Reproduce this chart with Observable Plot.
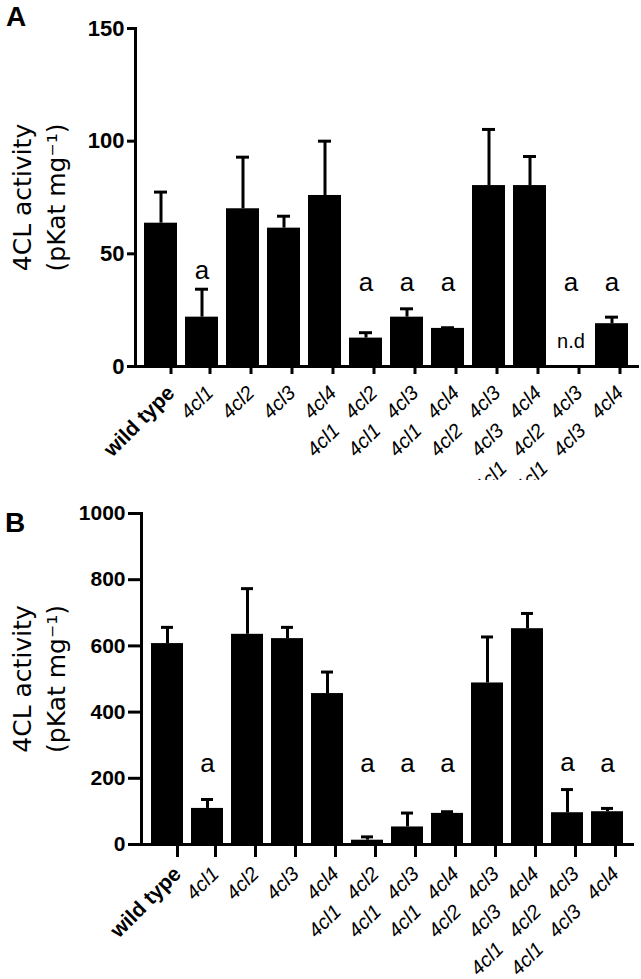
<!DOCTYPE html>
<html><head><meta charset="utf-8">
<script src="https://cdn.jsdelivr.net/npm/d3@7"></script>
<script src="https://cdn.jsdelivr.net/npm/@observablehq/plot@0.6"></script>
<style>
body{margin:0;background:#fff;font-family:"Liberation Sans",Arial,Helvetica,sans-serif;}
.panel{position:relative;width:641px;}
.letter{position:absolute;font-weight:bold;font-size:28px;line-height:1;color:#000;}
svg{display:block;}
</style></head><body>
<div id="A" class="panel"><span class="letter" style="left:6px;top:3px">A</span></div>
<div id="B" class="panel"><span class="letter" style="left:5px;top:29px">B</span></div>
<script>
const genotypes = ["wild type","4cl1","4cl2","4cl3","4cl4","4cl1 4cl2","4cl1 4cl3","4cl1 4cl4","4cl2 4cl3","4cl3 4cl4","4cl1 4cl2 4cl3","4cl1 4cl3 4cl4"];

const meansA = [63.6, 21.9, 70.0, 61.4, 75.9, 12.6, 21.9, 16.9, 80.3, 80.3, 0, 19.0];
const errA   = [13.8, 12.4, 22.9, 5.3, 24.1, 2.4, 3.7, 0.3, 24.9, 12.9, 0, 2.9];
const sigA   = ["", "a", "", "", "", "a", "a", "a", "", "", "a", "a"];
const ticksA = [0, 50, 100, 150];

const meansB = [607, 109, 635, 622, 456, 13, 53, 94, 488, 652, 96, 99];
const errB   = [49, 27, 138, 34, 65, 10, 42, 5, 139, 46, 70, 10];
const sigB   = ["", "a", "", "", "", "a", "a", "a", "", "", "a", "a"];
const ticksB = [0, 200, 400, 600, 800, 1000];

const yLabel = "4CL activity\n(pKat mg\u207B\u00B9)";
const FONT = "'Liberation Sans', Arial, Helvetica, sans-serif";
const wide = s => s.replace(/ /g, "\u00A0\u00A0\u00A0");

function panel({means, errs, sig, ticks, ymax, height, marginTop, marginBottom, marginLeft, marginRight, labelBase, labelPad, yTick, yFont, xTick, xPad}) {
  const rows = genotypes.map((g, i) => ({
    g, v: means[i], e: errs[i], top: means[i] + errs[i], s: sig[i],
    ly: Math.max(labelBase, means[i] + errs[i] + labelPad)
  }));
  const withErr = rows.filter(d => d.e > 0);
  return Plot.plot({
    width: 641, height, marginTop, marginBottom, marginLeft, marginRight,
    style: {fontFamily: FONT, color: "black", background: "white", overflow: "visible"},
    x: {domain: genotypes, paddingInner: 0.2, paddingOuter: 0.1, axis: null},
    y: {domain: [0, ymax], axis: null},
    marks: [
      Plot.barY(rows, {x: "g", y: "v", fill: "black"}),
      Plot.ruleX(withErr, {x: "g", y1: "v", y2: "top", stroke: "black", strokeWidth: 3}),
      Plot.tickY(withErr, {x: "g", y: "top", stroke: "black", strokeWidth: 3, insetLeft: 10, insetRight: 10}),
      Plot.text(rows.filter(d => d.s), {x: "g", y: "ly", text: "s", fontSize: 26, fill: "black"}),
      Plot.text(rows.filter(d => d.v === 0), {x: "g", y: 0, text: () => "n.d", fontSize: 20, lineAnchor: "bottom", dy: -19, fill: "black"}),
      Plot.axisY(ticks, {tickSize: yTick, tickPadding: 3, strokeWidth: 3, fontSize: yFont, fontWeight: "bold", label: null, fill: "black", tickFormat: d => String(d)}),
      Plot.axisX(["wild type"], {tickSize: xTick, strokeWidth: 3, tickRotate: -45, tickPadding: xPad, dx: 10, fontSize: 21, fontWeight: "bold", label: null, fill: "black"}),
      Plot.axisX(genotypes.slice(1), {tickSize: xTick, strokeWidth: 3, tickRotate: -45, tickPadding: xPad, dx: 8, fontSize: 20, fontStyle: "italic", label: null, fill: "black", tickFormat: wide}),
      Plot.frame({anchor: "left", stroke: "black", strokeWidth: 3}),
      Plot.frame({anchor: "bottom", stroke: "black", strokeWidth: 3}),
      Plot.text([yLabel], {frameAnchor: "left", dx: 37 - marginLeft, rotate: -90, textAnchor: "middle", lineAnchor: "middle", fontSize: 25, lineHeight: 1.36, fontFamily: "'DejaVu Sans', sans-serif", text: d => d, fill: "black"})
    ]
  });
}

document.getElementById("A").append(panel({
  means: meansA, errs: errA, sig: sigA, ticks: ticksA, ymax: 150,
  height: 480, marginTop: 28, marginBottom: 114, marginLeft: 135, marginRight: 4,
  labelBase: 37.4, labelPad: 8.3, yTick: 8, yFont: 22, xTick: 8, xPad: 15
}));
document.getElementById("B").append(panel({
  means: meansB, errs: errB, sig: sigB, ticks: ticksB, ymax: 1000,
  height: 499, marginTop: 33, marginBottom: 135, marginLeft: 141, marginRight: 9,
  labelBase: 245, labelPad: 80, yTick: 13, yFont: 21, xTick: 13, xPad: 13
}));
</script>
</body></html>
